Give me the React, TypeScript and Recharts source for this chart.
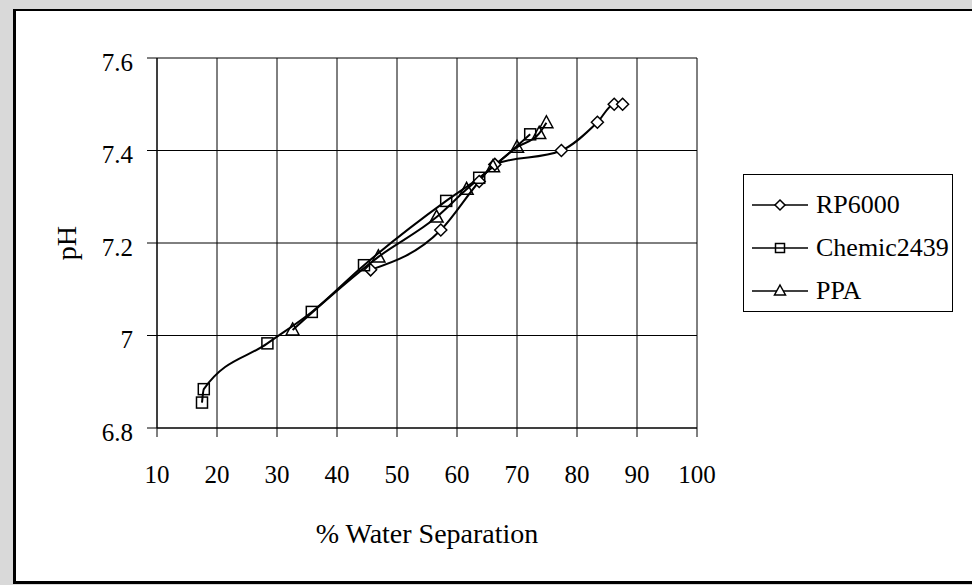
import React from 'react'
import { LineChart, Line, XAxis, YAxis, CartesianGrid } from 'recharts'

// values
const rp6000X = [45.6, 57.3, 63.7, 66.3, 77.4, 83.4, 86.2, 87.6]
const rp6000Y = [7.142, 7.228, 7.333, 7.37, 7.4, 7.461, 7.5, 7.5]

const chemicX = [17.5, 17.8, 28.4, 35.8, 44.5, 58.2, 63.7, 72.2]
const chemicY = [6.855, 6.884, 6.983, 7.051, 7.152, 7.291, 7.341, 7.435]

const ppaX = [32.6, 46.9, 56.6, 61.6, 66.0, 70.0, 73.7, 74.9]
const ppaY = [7.012, 7.17, 7.256, 7.316, 7.365, 7.407, 7.437, 7.46]

const xTicks = [10, 20, 30, 40, 50, 60, 70, 80, 90, 100]
const yTicks = [6.8, 7.0, 7.2, 7.4, 7.6]

const toPoints = (xs: number[], ys: number[]) => xs.map((x, i) => ({ x, y: ys[i] }))

const FONT = '"Liberation Serif", "Times New Roman", serif'

const diamondPath = (cx: number, cy: number) =>
    `M${cx},${cy - 6}L${cx + 6},${cy}L${cx},${cy + 6}L${cx - 6},${cy}Z`
const trianglePath = (cx: number, cy: number) =>
    `M${cx},${cy - 7}L${cx + 6.5},${cy + 5}L${cx - 6.5},${cy + 5}Z`

const DiamondDot = (p: any) =>
    p.cx == null ? null : (
        <path key={`d${p.index}`} d={diamondPath(p.cx, p.cy)} fill="#fff" stroke="#000" strokeWidth={1.5} />
    )
const SquareDot = (p: any) =>
    p.cx == null ? null : (
        <rect key={`s${p.index}`} x={p.cx - 5.5} y={p.cy - 5.5} width={11} height={11} fill="none" stroke="#000" strokeWidth={1.5} />
    )
const TriangleDot = (p: any) =>
    p.cx == null ? null : (
        <path key={`t${p.index}`} d={trianglePath(p.cx, p.cy)} fill="none" stroke="#000" strokeWidth={1.5} />
    )

const series = [
    { name: 'RP6000', data: toPoints(rp6000X, rp6000Y), dot: DiamondDot, icon: 'diamond' },
    { name: 'Chemic2439', data: toPoints(chemicX, chemicY), dot: SquareDot, icon: 'square' },
    { name: 'PPA', data: toPoints(ppaX, ppaY), dot: TriangleDot, icon: 'triangle' },
]

function LegendIcon({ kind }: { kind: string }) {
    return (
        <svg width={60} height={20} style={{ display: 'block' }}>
            <line x1={2} y1={10} x2={58} y2={10} stroke="#000" strokeWidth={1.5} />
            {kind === 'diamond' && <path d={`M30,5L35,10L30,15L25,10Z`} fill="#fff" stroke="#000" strokeWidth={1.5} />}
            {kind === 'square' && <rect x={25.5} y={5.5} width={9} height={9} fill="none" stroke="#000" strokeWidth={1.5} />}
            {kind === 'triangle' && <path d={`M30,4L35.5,14L24.5,14Z`} fill="#fff" stroke="#000" strokeWidth={1.5} />}
        </svg>
    )
}

export default function App() {
    return (
        <div style={{ position: 'fixed', left: 0, top: 0, width: 972, height: 585, background: '#d9d9d9', overflow: 'hidden' }}>
            <div
                style={{
                    position: 'absolute',
                    left: 13,
                    top: 9,
                    width: 980,
                    height: 575,
                    boxSizing: 'border-box',
                    background: '#fff',
                    borderLeft: '3px solid #000',
                    borderTop: '2px solid #000',
                    borderBottom: '3px solid #000',
                }}
            />
            <div style={{ position: 'absolute', left: 0, top: 0 }}>
                <LineChart width={972} height={585} margin={{ top: 58, right: 275, bottom: 0, left: 0 }}>
                    <CartesianGrid stroke="#000" strokeWidth={1} />
                    <XAxis
                        dataKey="x"
                        type="number"
                        domain={[10, 100]}
                        ticks={xTicks}
                        height={157}
                        stroke="#000"
                        tickSize={9}
                        tickMargin={28}
                        tick={{ fontSize: 25, fill: '#000', fontFamily: FONT }}
                        label={{
                            content: () => (
                                <text x={427} y={543} textAnchor="middle" fontSize={28} fontFamily={FONT} fill="#000">
                                    % Water Separation
                                </text>
                            ),
                        }}
                    />
                    <YAxis
                        type="number"
                        domain={[6.8, 7.6]}
                        ticks={yTicks}
                        width={157}
                        stroke="#000"
                        tickSize={10}
                        tickMargin={14}
                        tickFormatter={(v: number) => (v === 7 ? '7' : v.toFixed(1))}
                        tick={{ fontSize: 25, fill: '#000', fontFamily: FONT, dy: 4 }}
                        label={{
                            content: () => (
                                <text
                                    x={66}
                                    y={243}
                                    transform="rotate(-90 66 243)"
                                    textAnchor="middle"
                                    dominantBaseline="central"
                                    fontSize={28}
                                    fontFamily={FONT}
                                    fill="#000"
                                >
                                    pH
                                </text>
                            ),
                        }}
                    />
                    {series.map((s) => (
                        <Line
                            key={s.name}
                            name={s.name}
                            data={s.data}
                            dataKey="y"
                            type="monotone"
                            stroke="#000"
                            strokeWidth={2}
                            dot={s.dot}
                            activeDot={false}
                            isAnimationActive={false}
                        />
                    ))}
                </LineChart>
            </div>
            <div
                style={{
                    position: 'absolute',
                    left: 743,
                    top: 174,
                    width: 210,
                    height: 138,
                    boxSizing: 'border-box',
                    border: '1px solid #000',
                    background: '#fff',
                    paddingTop: 8,
                    fontFamily: FONT,
                    fontSize: 26,
                }}
            >
                {series.map((s) => (
                    <div key={s.name} style={{ display: 'flex', alignItems: 'center', height: 43, lineHeight: '43px' }}>
                        <div style={{ marginLeft: 6, marginRight: 6 }}>
                            <LegendIcon kind={s.icon} />
                        </div>
                        <span>{s.name}</span>
                    </div>
                ))}
            </div>
        </div>
    )
}
